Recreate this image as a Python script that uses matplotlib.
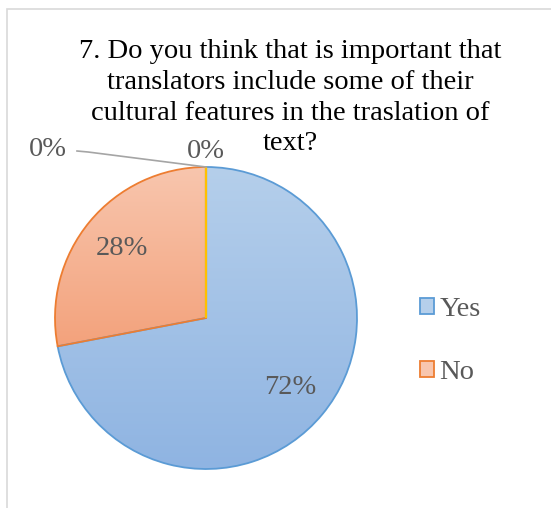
import matplotlib.pyplot as plt
import numpy as np
from matplotlib.patches import Patch, Rectangle
from matplotlib.colors import LinearSegmentedColormap

plt.rcParams['font.family'] = ['Liberation Serif', 'DejaVu Serif']

# data
labels = ['Yes', 'No', '', '']
values = [72, 28, 0, 0]
pct_labels = ['72%', '28%', '0%', '0%']
edge_colors = ['#5b9bd5', '#ed7d31', '#a5a5a5', '#ffc000']
grad_top = ['#b5cfeb', '#f8c6ae', '#c8c8c8', '#ffd966']
grad_bottom = ['#8fb4e2', '#f3a27c', '#a5a5a5', '#ffc000']
title_lines = ['7. Do you think that is important that',
               'translators include some of their',
               'cultural features in the traslation of',
               'text?']

W, H = 551, 508
FS = 20.5
fig = plt.figure(figsize=(W / 100, H / 100), dpi=100)
ax = fig.add_axes([0, 0, 1, 1])

# pie geometry in pixel units (y measured up from bottom)
cx, cy, R = 206, H - 318, 151

wedges, _ = ax.pie(values, startangle=90, counterclock=False, radius=R,
                   center=(cx, cy), frame=True,
                   wedgeprops=dict(linewidth=1.3))
for w, ec, top, bot in zip(wedges, edge_colors, grad_top, grad_bottom):
    w.set_facecolor('none')
    w.set_edgecolor(ec)
    w.set_zorder(3)
    if w.theta2 - w.theta1 < 1e-6:
        w.set_linewidth(1.6)
        continue
    # vertical gradient clipped to the wedge
    bb = w.get_path().get_extents(w.get_patch_transform())
    cmap = LinearSegmentedColormap.from_list('g', [bot, top])
    grad = np.linspace(0, 1, 256).reshape(-1, 1)
    im = ax.imshow(grad, cmap=cmap, origin='lower', aspect='auto',
                   extent=(bb.x0, bb.x1, bb.y0, bb.y1), zorder=2,
                   interpolation='bilinear')
    im.set_clip_path(w)

# percentage labels
for w, txt in zip(wedges[:2], pct_labels[:2]):
    mid = np.deg2rad((w.theta1 + w.theta2) / 2)
    ax.text(cx + 0.72 * R * np.cos(mid), cy + 0.72 * R * np.sin(mid), txt,
            ha='center', va='center', fontsize=FS, color='#595959', zorder=5)

# the two zero slices at the top
top_x, top_y = cx, cy + R
ax.text(top_x, top_y + 15, pct_labels[3], ha='center', va='center',
        fontsize=FS, color='#595959', zorder=5)
ax.plot([top_x, top_x - 118, top_x - 129], [top_y, top_y + 15, top_y + 16],
        color='#a5a5a5', lw=1.2, zorder=4)
ax.text(top_x - 158, top_y + 17, pct_labels[2], ha='center', va='center',
        fontsize=FS, color='#595959', zorder=5)

# title, one line at a time
for i, line in enumerate(title_lines):
    ax.text(290, H - 52 - 30.5 * i, line, ha='center', va='center',
            fontsize=FS, color='#000000', zorder=5)

# chart frame
ax.add_patch(Rectangle((7, -5), W, H - 9 + 5, facecolor='none',
                       edgecolor='#d9d9d9', lw=1.2, zorder=1))

# legend
handles = [Patch(facecolor=(grad_top[i]), edgecolor=edge_colors[i], lw=1.3)
           for i in range(2)]
ax.legend(handles, labels[:2], loc='center left',
          bbox_to_anchor=(406 / W, 1 - 341 / H), frameon=False,
          fontsize=FS, labelcolor='#595959', handlelength=0.48,
          handleheight=0.48, handletextpad=0.2, labelspacing=1.32,
          borderpad=0)

ax.set_xlim(0, W)
ax.set_ylim(0, H)
ax.set_aspect('equal')
ax.axis('off')
fig.savefig('out.png', dpi=100)
